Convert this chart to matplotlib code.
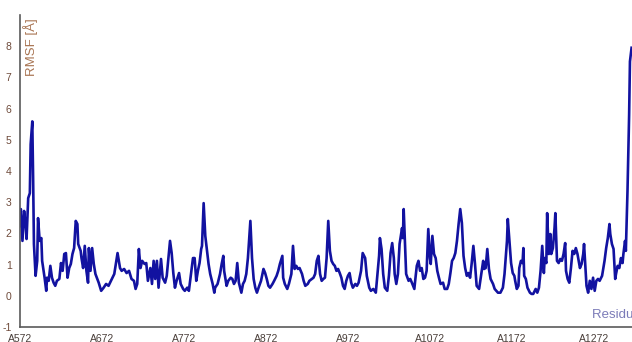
import matplotlib
matplotlib.use("Agg")
import matplotlib.pyplot as plt

plt.rcParams['font.family'] = ['Liberation Sans', 'DejaVu Sans']

# per-residue RMSF trace (residue number, RMSF in Angstrom)
residues = [
    572, 573, 575, 577, 579, 580, 582, 584, 585, 587, 588, 589, 591, 593, 594, 596, 598, 599,
    602, 604, 605, 607, 609, 611, 613, 615, 617, 620, 622, 624, 626, 628, 630, 632, 634, 636,
    638, 640, 642, 643, 646, 647, 649, 651, 653, 655, 656, 658, 660, 662, 664, 668, 671, 674,
    677, 680, 684, 687, 691, 694, 696, 699, 702, 705, 708, 711, 713, 715, 717, 719, 721, 724,
    726, 728, 731, 733, 735, 737, 739, 741, 744, 746, 749, 751, 753, 755, 757, 759, 761, 763,
    766, 768, 771, 773, 776, 778, 781, 783, 785, 787, 789, 791, 793, 794, 796, 798, 799, 802,
    804, 807, 809, 810, 813, 816, 818, 820, 821, 824, 826, 829, 831, 833, 835, 837, 839, 842,
    844, 846, 848, 850, 853, 855, 857, 859, 861, 863, 866, 869, 871, 873, 875, 877, 880, 882,
    885, 887, 889, 892, 893, 895, 898, 900, 903, 905, 907, 909, 911, 913, 916, 918, 920, 923,
    925, 928, 930, 932, 934, 936, 938, 940, 942, 944, 946, 948, 950, 952, 954, 956, 958, 960,
    962, 964, 966, 968, 970, 972, 974, 976, 978, 981, 983, 985, 988, 990, 993, 995, 998, 1000,
    1003, 1006, 1008, 1010, 1011, 1013, 1015, 1017, 1020, 1022, 1024, 1026, 1028, 1029, 1031,
    1033, 1035, 1038, 1039, 1040, 1042, 1043, 1046, 1048, 1050, 1053, 1054, 1056, 1058, 1060,
    1062, 1064, 1066, 1068, 1070, 1072, 1073, 1075, 1077, 1079, 1081, 1083, 1085, 1088, 1090,
    1093, 1095, 1097, 1099, 1101, 1103, 1105, 1107, 1109, 1111, 1113, 1115, 1117, 1119, 1121,
    1123, 1125, 1127, 1129, 1132, 1134, 1137, 1138, 1140, 1142, 1144, 1146, 1149, 1151, 1155,
    1158, 1161, 1163, 1166, 1167, 1169, 1171, 1173, 1175, 1176, 1178, 1180, 1181, 1183, 1185,
    1186, 1187, 1189, 1191, 1194, 1196, 1198, 1201, 1203, 1205, 1207, 1209, 1211, 1212, 1214,
    1215, 1217, 1219, 1220, 1222, 1224, 1225, 1227, 1229, 1231, 1233, 1235, 1237, 1238, 1240,
    1242, 1244, 1246, 1248, 1250, 1252, 1255, 1257, 1259, 1260, 1262, 1263, 1265, 1267, 1269,
    1271, 1273, 1275, 1277, 1279, 1282, 1285, 1287, 1289, 1291, 1292, 1294, 1296, 1298, 1299,
    1301, 1303, 1305, 1307, 1308, 1310, 1311, 1313, 1315, 1316, 1318,
]
rmsf = [
    2.24, 2.78, 1.76, 2.72, 2.24, 1.82, 3.13, 3.29, 4.86, 5.59, 3.77, 1.66, 0.64, 1.12, 2.49, 1.76, 1.85, 1.12,
    0.58, 0.16, 0.58, 0.48, 0.96, 0.58, 0.42, 0.32, 0.48, 0.54, 1.05, 0.80, 1.34, 1.37, 0.58, 0.89, 1.02, 1.34,
    1.53, 2.40, 2.30, 1.66, 1.44, 1.21, 0.89, 1.60, 0.80, 0.42, 1.53, 0.80, 1.53, 1.02, 0.70, 0.42, 0.16, 0.26,
    0.38, 0.32, 0.54, 0.70, 1.37, 0.89, 0.80, 0.86, 0.73, 0.80, 0.54, 0.48, 0.22, 0.38, 1.50, 0.89, 1.12, 1.02,
    1.05, 0.48, 0.89, 0.38, 1.12, 0.54, 1.12, 0.26, 1.18, 0.58, 0.42, 0.64, 1.21, 1.76, 1.37, 0.73, 0.26, 0.48,
    0.73, 0.38, 0.22, 0.16, 0.26, 0.16, 0.80, 1.21, 1.21, 0.48, 0.80, 1.05, 1.50, 1.60, 2.97, 1.92, 1.69, 1.02,
    0.70, 0.38, 0.10, 0.26, 0.38, 0.70, 1.02, 1.28, 0.80, 0.32, 0.48, 0.58, 0.54, 0.38, 0.48, 1.05, 0.42, 0.10,
    0.38, 0.48, 0.70, 1.21, 2.40, 1.21, 0.54, 0.26, 0.10, 0.26, 0.48, 0.86, 0.73, 0.54, 0.32, 0.26, 0.38, 0.48,
    0.64, 0.80, 1.02, 1.28, 0.58, 0.38, 0.22, 0.38, 0.70, 1.60, 0.86, 0.96, 0.86, 0.89, 0.70, 0.48, 0.32, 0.38,
    0.48, 0.54, 0.58, 0.70, 1.12, 1.28, 0.70, 0.48, 0.54, 0.58, 1.21, 2.40, 1.44, 1.12, 1.02, 0.96, 0.80, 0.86,
    0.73, 0.58, 0.32, 0.22, 0.48, 0.64, 0.73, 0.42, 0.26, 0.38, 0.32, 0.42, 0.80, 1.37, 1.21, 0.64, 0.26, 0.16,
    0.22, 0.10, 0.70, 1.28, 1.85, 1.50, 0.70, 0.26, 0.16, 0.64, 1.37, 1.69, 1.21, 0.70, 0.38,
    0.70, 1.66, 2.17, 1.85, 2.78, 1.44, 0.70, 0.48, 0.54, 0.42, 0.22, 0.48, 0.96, 1.12, 0.80,
    0.89, 0.54, 0.58, 0.80, 2.14, 1.21, 1.02, 1.92, 1.34, 1.21, 0.80, 0.58, 0.38, 0.42, 0.22,
    0.22, 0.38, 0.73, 1.12, 1.21, 1.37, 1.76, 2.30, 2.78, 2.33, 1.28, 0.89, 0.64, 0.73, 0.58,
    1.05, 1.60, 1.02, 0.32, 0.22, 0.58, 1.12, 0.86, 0.89, 1.50, 0.86, 0.54, 0.38, 0.22, 0.10,
    0.10, 0.26, 0.70, 1.76, 2.46, 1.76, 1.05, 0.73, 0.64, 0.48, 0.22, 0.32, 0.89, 1.12, 1.05,
    1.53, 0.64, 0.54, 0.26, 0.10, 0.06, 0.06, 0.22, 0.10, 0.26, 0.80, 1.60, 0.73, 1.21, 1.05,
    2.65, 1.34, 1.98, 1.34, 1.53, 2.17, 2.65, 1.12, 1.05, 1.18, 1.12, 1.34, 1.69, 0.80, 0.54,
    0.42, 0.89, 1.44, 1.34, 1.53, 1.34, 0.89, 1.02, 1.34, 1.66, 0.80, 0.32, 0.10, 0.48, 0.22,
    0.58, 0.16, 0.48, 0.54, 0.48, 0.64, 1.12, 1.53, 1.85, 2.30, 1.98, 1.66, 1.50, 0.54, 0.70,
    0.96, 0.89, 1.21, 1.05, 1.34, 1.76, 1.44, 3.35, 5.81, 7.51, 7.95,
]

tick_res = [572, 672, 772, 872, 972, 1072, 1172, 1272]
tick_labels = ["A%d" % r for r in tick_res]
y_ticks = [-1, 0, 1, 2, 3, 4, 5, 6, 7, 8]

fig = plt.figure(figsize=(6.32, 3.42), dpi=100)
ax = fig.add_axes([20 / 632, 15 / 342, 1 - 20 / 632, 312 / 342])

ax.plot(residues, rmsf, color='#1212a0', lw=1.9, solid_joinstyle='round')

ax.set_xlim(572, 1318.5)
ax.set_ylim(-1, 9)

for side in ['top', 'right']:
    ax.spines[side].set_visible(False)
for side in ['left', 'bottom']:
    ax.spines[side].set_color('#5a5a5a')
    ax.spines[side].set_linewidth(1.2)

ax.set_yticks(y_ticks)
ax.set_yticklabels([str(v) for v in y_ticks])
ax.tick_params(axis='y', length=0, pad=6, labelsize=7.5, labelcolor='#6e4a3a')

ax.set_xticks(tick_res)
ax.set_xticklabels(tick_labels)
ax.tick_params(axis='x', length=4, width=1, direction='inout', color='white',
               pad=3, labelsize=7.5, labelcolor='#4a3f3a')

ax.text(0.018, 0.99, "RMSF [Å]", transform=ax.transAxes, rotation=90,
        ha='center', va='top', fontsize=9.5, color='#a87452')
ax.text(0.935, 0.04, "Residue Number", transform=ax.transAxes,
        ha='left', va='center', fontsize=9.5, color='#7b7bb8')

fig.savefig("out.png", dpi=100)
